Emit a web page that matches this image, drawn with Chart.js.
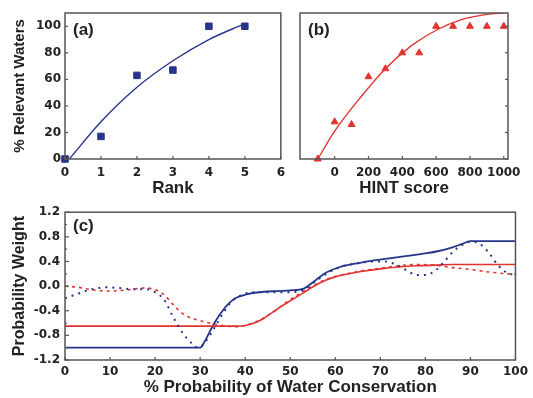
<!DOCTYPE html>
<html>
<head>
<meta charset="utf-8">
<script src="https://cdn.jsdelivr.net/npm/chart.js@4.4.0/dist/chart.umd.min.js"></script>
<style>
  body { margin: 0; background: #fff; width: 533px; height: 398px; position: relative; overflow: hidden; }
  canvas { position: absolute; }
</style>
</head>
<body>
<canvas id="chartA" style="left:0;top:0" width="292" height="200"></canvas>
<canvas id="chartB" style="left:292px;top:0" width="241" height="200"></canvas>
<canvas id="chartC" style="left:0;top:200px" width="533" height="198"></canvas>
<script>
// ---- panel (a) data
const rankVals = [0, 1, 2, 3, 4, 5];
const rankPct = [0, 17, 63, 67, 100, 100];
const rankFitX = [0.12, 1, 2, 3, 4, 5];
const rankFitY = [0, 28, 54, 74, 90, 102];
const rankTicks = [0, 1, 2, 3, 4, 5, 6];
const pctTicks = [0, 20, 40, 60, 80, 100];

// ---- panel (b) data
const hintVals = [-100, 0, 100, 200, 300, 400, 500, 600, 700, 800, 900, 1000];
const hintPct = [0, 28, 26, 62, 68, 80, 80, 100, 100, 100, 100, 100];
const hintFitX = [-100, 0, 150, 300, 450, 600, 750, 900, 1000];
const hintFitY = [0, 21, 46, 68, 85, 97, 105, 109, 110];
const hintTicks = [0, 200, 400, 600, 800, 1000];

// ---- panel (c) data
const blueSolidX = [0, 30, 31, 32, 33, 34, 35, 36, 37, 38, 40, 43, 47, 50, 53, 55, 58, 61, 64, 68, 72, 76, 80, 83, 86, 88, 90, 100];
const blueSolidY = [-1.0, -1.0, -0.9, -0.76, -0.62, -0.5, -0.4, -0.31, -0.24, -0.19, -0.14, -0.1, -0.08, -0.07, -0.04, 0.06, 0.22, 0.31, 0.36, 0.41, 0.45, 0.49, 0.53, 0.57, 0.63, 0.68, 0.73, 0.73];
const redSolidX = [0, 38, 40, 42, 44, 46, 48, 50, 52, 54, 56, 58, 60, 63, 66, 70, 74, 78, 82, 86, 100];
const redSolidY = [-0.65, -0.65, -0.64, -0.6, -0.53, -0.43, -0.33, -0.24, -0.15, -0.06, 0.03, 0.1, 0.15, 0.2, 0.24, 0.28, 0.31, 0.33, 0.34, 0.35, 0.35];
const blueDotX = [0, 3, 6, 9, 12, 15, 18, 20, 22, 24, 26, 28, 29.5, 31, 33, 35, 37, 39, 42, 46, 50, 53, 56, 59, 62, 65, 68, 71, 74, 76, 78, 80, 82, 84, 86, 88, 90, 92, 94, 96, 98, 100];
const blueDotY = [-0.2, -0.12, -0.05, -0.02, -0.03, -0.05, -0.05, -0.1, -0.22, -0.5, -0.75, -0.92, -1.0, -0.92, -0.7, -0.45, -0.25, -0.15, -0.1, -0.1, -0.1, -0.06, 0.1, 0.24, 0.33, 0.37, 0.4, 0.4, 0.33, 0.25, 0.18, 0.18, 0.24, 0.38, 0.55, 0.66, 0.72, 0.69, 0.55, 0.35, 0.22, 0.18];
const redDotX = [0, 3, 6, 10, 14, 18, 20, 22, 24, 26, 28, 30, 32, 34, 36, 38, 40, 43, 46, 50, 54, 58, 62, 66, 70, 74, 78, 82, 86, 90, 94, 98, 100];
const redDotY = [0.0, -0.02, -0.06, -0.08, -0.06, -0.03, -0.06, -0.14, -0.3, -0.44, -0.52, -0.56, -0.6, -0.63, -0.65, -0.66, -0.64, -0.56, -0.43, -0.22, -0.04, 0.11, 0.19, 0.25, 0.29, 0.33, 0.35, 0.34, 0.3, 0.27, 0.23, 0.2, 0.19];
const probTicks = [0, 10, 20, 30, 40, 50, 60, 70, 80, 90, 100];
const weightTicks = [-1.2, -0.8, -0.4, 0.0, 0.4, 0.8, 1.2];
const weightMinor = [-1.0, -0.6, -0.2, 0.2, 0.6, 1.0];

const BLUE = "#27368c";
const RED = "#e2332f";
const FRAME = "#555";
const TEXT = "#222";
const TICKFONT = { family: "DejaVu Sans", size: 12, weight: "bold" };

function pts(xs, ys) {
    return xs.map((x, i) => ({ x: x, y: ys[i] }));
}
function fixTicks(values) {
    return function (scale) { scale.ticks = values.map(v => ({ value: v })); };
}

// frame box, inward tick marks and panel letter
const framePlugin = {
    id: "frame",
    afterDatasetsDraw(chart, args, opts) {
        const ctx = chart.ctx;
        const ca = chart.chartArea;
        ctx.save();
        ctx.strokeStyle = FRAME;
        ctx.lineWidth = 1.5;
        ctx.strokeRect(ca.left, ca.top, ca.right - ca.left, ca.bottom - ca.top);
        ctx.lineWidth = 1.2;
        (opts.marks || []).forEach(m => {
            const s = chart.scales[m.scale];
            m.values.forEach(v => {
                const p = s.getPixelForValue(v);
                ctx.beginPath();
                if (m.edge === "bottom") { ctx.moveTo(p, ca.bottom); ctx.lineTo(p, ca.bottom - m.len); }
                if (m.edge === "left") { ctx.moveTo(ca.left, p); ctx.lineTo(ca.left + m.len, p); }
                if (m.edge === "right") { ctx.moveTo(ca.right, p); ctx.lineTo(ca.right - m.len, p); }
                ctx.stroke();
            });
        });
        ctx.fillStyle = TEXT;
        ctx.font = "bold 17px 'Liberation Sans', Arial, sans-serif";
        ctx.textBaseline = "top";
        ctx.fillText(opts.label, ca.left + 8, ca.top + opts.labelY);
        ctx.restore();
    }
};

Chart.defaults.color = TEXT;
Chart.defaults.font.family = "'Liberation Sans', Arial, sans-serif";

// PANEL (a)
new Chart(document.getElementById("chartA"), {
    type: "scatter",
    data: {
        datasets: [
            {
                data: pts(rankFitX, rankFitY),
                showLine: true,
                borderColor: BLUE,
                borderWidth: 1.4,
                pointRadius: 0,
                cubicInterpolationMode: "monotone",
            },
            {
                data: pts(rankVals, rankPct),
                backgroundColor: BLUE,
                borderColor: BLUE,
                pointStyle: "rect",
                pointRadius: 4.6,
                clip: false,
            },
        ],
    },
    options: {
        responsive: false,
        animation: false,
        layout: { padding: { top: 13, right: 7, left: 0, bottom: 0 } },
        plugins: {
            legend: { display: false },
            tooltip: { enabled: false },
            frame: {
                label: "(a)", labelY: 9,
                marks: [
                    { scale: "x", edge: "bottom", values: rankTicks, len: 3 },
                    { scale: "y", edge: "left", values: pctTicks, len: 3 },
                ],
            },
        },
        scales: {
            x: {
                type: "linear", min: 0, max: 6,
                afterBuildTicks: fixTicks(rankTicks),
                afterFit: s => { s.height = 41; },
                grid: { display: false, drawTicks: false },
                border: { display: false },
                ticks: { font: TICKFONT, padding: 7, maxRotation: 0, autoSkip: false },
                title: { display: true, text: "Rank", font: { size: 17, weight: "bold" }, padding: { top: 0, bottom: 1 } },
            },
            y: {
                min: 0, max: 110,
                afterBuildTicks: fixTicks(pctTicks),
                afterFit: s => { s.width = 65; },
                grid: { display: false, drawTicks: false },
                border: { display: false },
                ticks: { font: TICKFONT, padding: 4 },
                title: { display: true, text: "% Relevant Waters", font: { size: 15, weight: "bold" }, padding: { top: 11, bottom: 0 } },
            },
        },
    },
    plugins: [framePlugin],
});

// PANEL (b)
new Chart(document.getElementById("chartB"), {
    type: "scatter",
    data: {
        datasets: [
            {
                data: pts(hintFitX, hintFitY),
                showLine: true,
                borderColor: RED,
                borderWidth: 1.4,
                pointRadius: 0,
                cubicInterpolationMode: "monotone",
            },
            {
                data: pts(hintVals, hintPct),
                backgroundColor: RED,
                borderColor: RED,
                pointStyle: "triangle",
                pointRadius: 4,
                clip: false,
            },
        ],
    },
    options: {
        responsive: false,
        animation: false,
        layout: { padding: { top: 13, right: 25, left: 0, bottom: 0 } },
        plugins: {
            legend: { display: false },
            tooltip: { enabled: false },
            frame: {
                label: "(b)", labelY: 9,
                marks: [
                    { scale: "x", edge: "bottom", values: hintTicks, len: 3 },
                    { scale: "y", edge: "right", values: pctTicks, len: 3 },
                ],
            },
        },
        scales: {
            x: {
                type: "linear", min: -205, max: 1025,
                afterBuildTicks: fixTicks(hintTicks),
                afterFit: s => { s.height = 41; },
                grid: { display: false, drawTicks: false },
                border: { display: false },
                ticks: { font: TICKFONT, padding: 7, minRotation: 0, maxRotation: 0, autoSkip: false, callback: v => String(v) },
                title: { display: true, text: "HINT score", font: { size: 17, weight: "bold" }, padding: { top: 0, bottom: 1 } },
            },
            y: {
                min: 0, max: 110,
                afterBuildTicks: fixTicks(pctTicks),
                afterFit: s => { s.width = 8; },
                grid: { display: false, drawTicks: false },
                border: { display: false },
                ticks: { display: false },
            },
        },
    },
    plugins: [framePlugin],
});

// PANEL (c)
new Chart(document.getElementById("chartC"), {
    type: "scatter",
    data: {
        datasets: [
            {
                data: pts(blueDotX, blueDotY),
                showLine: true, borderColor: BLUE, borderWidth: 2,
                borderDash: [2, 5], pointRadius: 0, cubicInterpolationMode: "monotone",
            },
            {
                data: pts(redDotX, redDotY),
                showLine: true, borderColor: RED, borderWidth: 1.6,
                borderDash: [3, 4], pointRadius: 0, cubicInterpolationMode: "monotone",
            },
            {
                data: pts(redSolidX, redSolidY),
                showLine: true, borderColor: RED, borderWidth: 1.6,
                pointRadius: 0, cubicInterpolationMode: "monotone",
            },
            {
                data: pts(blueSolidX, blueSolidY),
                showLine: true, borderColor: BLUE, borderWidth: 1.8,
                pointRadius: 0, cubicInterpolationMode: "monotone",
            },
        ],
    },
    options: {
        responsive: false,
        animation: false,
        layout: { padding: { top: 12, right: 14, left: 0, bottom: 0 } },
        plugins: {
            legend: { display: false },
            tooltip: { enabled: false },
            frame: {
                label: "(c)", labelY: 6,
                marks: [
                    { scale: "x", edge: "bottom", values: probTicks, len: 3 },
                    { scale: "y", edge: "left", values: weightTicks, len: 4 },
                    { scale: "y", edge: "left", values: weightMinor, len: 2 },
                ],
            },
        },
        scales: {
            x: {
                type: "linear", min: 0, max: 100,
                afterBuildTicks: fixTicks(probTicks),
                afterFit: s => { s.height = 38; },
                grid: { display: false, drawTicks: false },
                border: { display: false },
                ticks: { font: TICKFONT, padding: 5, maxRotation: 0, autoSkip: false },
                title: { display: true, text: "% Probability of Water Conservation", font: { size: 17, weight: "bold" }, padding: { top: 0, bottom: 0 } },
            },
            y: {
                min: -1.2, max: 1.2,
                afterBuildTicks: fixTicks(weightTicks),
                afterFit: s => { s.width = 65; },
                grid: { display: false, drawTicks: false },
                border: { display: false },
                ticks: { font: TICKFONT, padding: 5, callback: v => v.toFixed(1) },
                title: { display: true, text: "Probability Weight", font: { size: 16, weight: "bold" }, padding: { top: 10, bottom: 0 } },
            },
        },
    },
    plugins: [framePlugin],
});
</script>
</body>
</html>
